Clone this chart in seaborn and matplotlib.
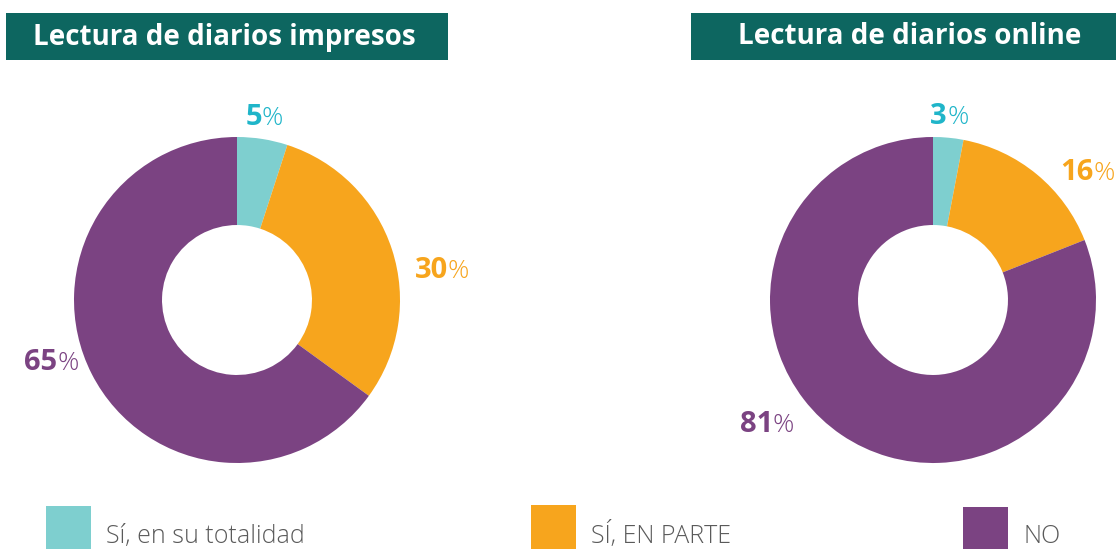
import matplotlib
matplotlib.use('Agg')
import matplotlib.pyplot as plt
import seaborn as sns
from matplotlib.patches import Rectangle

# data
titles = ['Lectura de diarios impresos', 'Lectura de diarios online']
categories = ['Sí, en su totalidad', 'SÍ, EN PARTE', 'NO']
impresos = [5, 30, 65]
online = [3, 16, 81]

colors = ['#7ecfcf', '#f7a51d', '#7b4382']
label_colors = ['#1fb5c9', '#f7a51d', '#7b4382']
title_bg = '#0d6660'

# label anchor (split between number and %), in pie units
lbl_pos = [
    [(0.153, 1.074), (1.294, 0.135), (-1.104, -0.429)],
    [(0.086, 1.080), (0.982, 0.736), (-0.982, -0.810)],
]

sns.set_theme(style='white')
plt.rcParams['font.family'] = ['Open Sans', 'DejaVu Sans']

W, H = 1116, 549
fig = plt.figure(figsize=(W / 100, H / 100), dpi=100)

# overlay axes in pixel coords for the title boxes and legend
bg = fig.add_axes([0, 0, 1, 1])
bg.set_xlim(0, W)
bg.set_ylim(H, 0)
bg.axis('off')

boxes = [(6, 448, 224), (691, 1116, 910)]
for (x0, x1, tx), t in zip(boxes, titles):
    bg.add_patch(Rectangle((x0, 13), x1 - x0, 47, color=title_bg, lw=0))
    bg.text(tx, 37, t, color='white', fontsize=20,
            fontweight='bold', ha='center', va='center')

# pies
centers = [237, 933]
R = 163
for i, (cx, vals) in enumerate(zip(centers, [impresos, online])):
    ax = fig.add_axes([(cx - R) / W, (H - 300 - R) / H, 2 * R / W, 2 * R / H])
    ax.pie(vals, colors=colors, startangle=90, counterclock=False,
           radius=1, wedgeprops=dict(width=0.54, linewidth=0))
    ax.set_xlim(-1, 1)
    ax.set_ylim(-1, 1)
    ax.set_aspect('equal')
    ax.axis('off')
    for v, (lx, ly), c in zip(vals, lbl_pos[i], label_colors):
        ax.text(lx, ly, str(v), color=c, fontsize=21, fontweight='bold',
                ha='right', va='baseline', clip_on=False)
        ax.text(lx, ly, '%', color=c, fontsize=19, fontweight='light',
                ha='left', va='baseline', clip_on=False)

# legend
leg = [(46, 506), (531, 505), (963, 507)]
for (x, y), c, name in zip(leg, colors, categories):
    bg.add_patch(Rectangle((x, y), 45, 60, color=c, lw=0, clip_on=False))
    bg.text(x + 60, 543, name, color='#5a5a5a', fontsize=18,
            fontweight='light', ha='left', va='baseline')

fig.savefig('out.png', dpi=100)
